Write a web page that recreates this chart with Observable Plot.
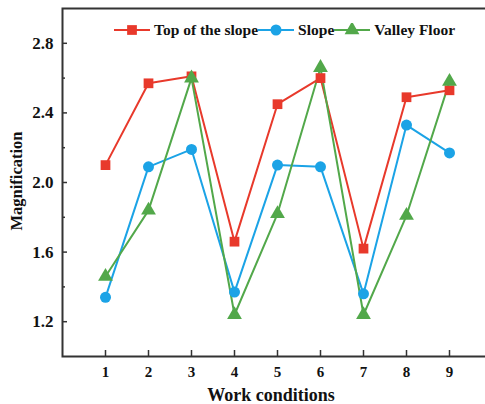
<!DOCTYPE html>
<html>
<head>
<meta charset="utf-8">
<script src="https://cdn.jsdelivr.net/npm/d3@7"></script>
<script src="https://cdn.jsdelivr.net/npm/@observablehq/plot@0.6"></script>
<style>
  html, body { margin: 0; padding: 0; background: #fff; overflow: hidden; }
  #wrap { position: relative; width: 485px; height: 404px; font-family: "Liberation Serif", "Times New Roman", serif; font-weight: bold; }
  #legend { position: absolute; left: 114px; top: 21px; display: flex; align-items: center; font-size: 15.5px; color: #111; white-space: nowrap; }
  #legend .item { display: flex; align-items: center; }
  #legend svg { display: block; margin-right: 4px; }
  #xlabel { position: absolute; top: 385px; left: 0; width: 542px; text-align: center; font-size: 18px; line-height: 20px; color: #111; }
  #ylabel { position: absolute; left: 17px; top: 181px; transform: translate(-50%, -50%) rotate(-90deg); font-size: 16.5px; color: #111; white-space: nowrap; }
</style>
</head>
<body>
<div id="wrap"></div>
<script>
const conditions = [1, 2, 3, 4, 5, 6, 7, 8, 9];
const seriesNames = ["Top of the slope", "Slope", "Valley Floor"];
const topOfSlope = [2.10, 2.57, 2.61, 1.66, 2.45, 2.60, 1.62, 2.49, 2.53];
const slope      = [1.34, 2.09, 2.19, 1.37, 2.10, 2.09, 1.36, 2.33, 2.17];
const valleyFloor= [1.46, 1.84, 2.60, 1.24, 1.82, 2.66, 1.24, 1.81, 2.58];
const colors = ["#e8392b", "#1ba3e6", "#52a84a"];
const symbols = ["square", "circle", "triangle"];
const yMajor = [1.2, 1.6, 2.0, 2.4, 2.8];
const yMinor = [1.4, 1.8, 2.2, 2.6];
const xLabel = "Work conditions";
const yLabel = "Magnification";

const values = [topOfSlope, slope, valleyFloor];
const data = [];
seriesNames.forEach((s, i) => conditions.forEach((c, j) => data.push({series: s, cond: c, value: values[i][j]})));

const wrap = document.getElementById("wrap");

const chart = Plot.plot({
  width: 485,
  height: 404,
  marginLeft: 62,
  marginRight: -7,
  marginTop: 8,
  marginBottom: 48,
  style: {fontFamily: "'Liberation Serif', 'Times New Roman', serif", fontWeight: "bold", fontSize: "15px", color: "#111", overflow: "hidden"},
  x: {domain: [0, 10]},
  y: {domain: [1.0, 3.0]},
  color: {domain: seriesNames, range: colors},
  symbol: {domain: seriesNames, range: symbols},
  marks: [
    Plot.axisX({ticks: conditions, tickSize: -6, tickPadding: 16, label: null, stroke: "#333", strokeWidth: 1.5, fontSize: 15}),
    Plot.axisY({ticks: yMajor, tickSize: -5, tickPadding: 14, label: null, tickFormat: d3.format(".1f"), stroke: "#333", strokeWidth: 1.5, fontSize: 17}),
    Plot.axisY({ticks: yMinor, tickSize: -3, tickFormat: () => "", label: null, stroke: "#333", strokeWidth: 1.5}),
    Plot.frame({stroke: "#333", strokeWidth: 2}),
    Plot.line(data, {x: "cond", y: "value", z: "series", stroke: "series", strokeWidth: 2}),
    Plot.dot(data, {x: "cond", y: "value", fill: "series", symbol: "series", r: 5.5, stroke: "none"})
  ]
});
wrap.appendChild(chart);

// legend
const legend = document.createElement("div");
legend.id = "legend";
seriesNames.forEach((s, i) => {
  const item = document.createElement("div");
  item.className = "item";
  const sw = d3.create("svg").attr("width", 36).attr("height", 14);
  sw.append("line").attr("x1", 0).attr("x2", 36).attr("y1", 7).attr("y2", 7).attr("stroke", colors[i]).attr("stroke-width", 2);
  const sym = {square: d3.symbolSquare, circle: d3.symbolCircle, triangle: d3.symbolTriangle}[symbols[i]];
  sw.append("path").attr("d", d3.symbol(sym, Math.PI * 5.5 * 5.5)()).attr("transform", "translate(18,7)").attr("fill", colors[i]);
  item.appendChild(sw.node());
  const t = document.createElement("span");
  t.textContent = s;
  item.appendChild(t);
  legend.appendChild(item);
});
wrap.appendChild(legend);

const xl = document.createElement("div");
xl.id = "xlabel"; xl.textContent = xLabel; wrap.appendChild(xl);
const yl = document.createElement("div");
yl.id = "ylabel"; yl.textContent = yLabel; wrap.appendChild(yl);
</script>
</body>
</html>
